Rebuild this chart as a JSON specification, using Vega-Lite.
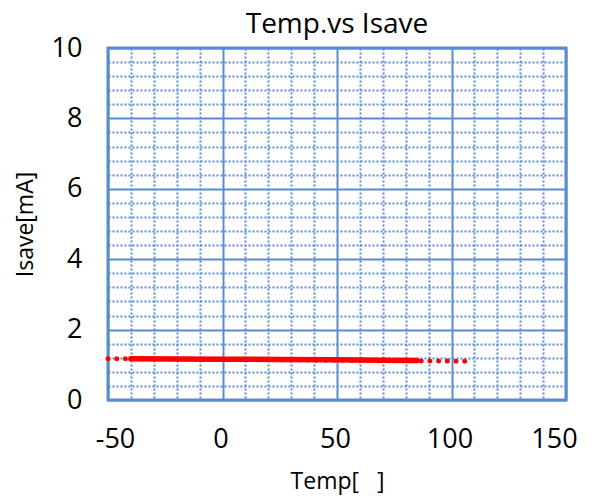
{
  "$schema": "https://vega.github.io/schema/vega-lite/v6.json",
  "width": 458,
  "height": 352,
  "autosize": "none",
  "padding": {"left": 108, "top": 48, "right": 34, "bottom": 103},
  "background": "white",
  "title": {"text": "Temp.vs Isave", "fontSize": 28, "font": "Open Sans", "fontWeight": "normal", "color": "#000000", "offset": -5},
  "config": {
    "view": {"stroke": "#5b8bd0", "strokeWidth": 3},
    "axis": {"labelFont": "Open Sans", "titleFont": "Open Sans", "labelColor": "#000", "titleColor": "#000", "titleFontWeight": "normal", "domain": false, "ticks": false, "labelOverlap": false}
  },
  "datasets": {
    "meas": [
      {"temp": -40, "isave": 1.17},
      {"temp": -20, "isave": 1.165},
      {"temp": 0, "isave": 1.16},
      {"temp": 25, "isave": 1.15},
      {"temp": 50, "isave": 1.14},
      {"temp": 70, "isave": 1.13},
      {"temp": 85, "isave": 1.12}
    ],
    "trend": [
      {"temp": -50, "isave": 1.175},
      {"temp": 108, "isave": 1.10}
    ]
  },
  "layer": [
    {
      "data": {"name": "trend"},
      "mark": {"type": "line", "color": "#ff0000", "strokeWidth": 5, "strokeDash": [0.1, 8.6], "strokeCap": "round"},
      "encoding": {
        "x": {"field": "temp", "type": "quantitative", "scale": {"domain": [-50, 150], "nice": false, "zero": false},
          "axis": {"title": "Temp[\u00a0\u00a0\u00a0]", "titleFontSize": 23, "labelFontSize": 27, "labelPadding": 26, "titlePadding": 18, "tickCount": 100,
            "labelFlush": false,
            "labelOffset": {"condition": [{"test": "datum.value === -50", "value": 7}, {"test": "datum.value === 150", "value": -12}], "value": -2},
            "values": [-50,-40,-30,-20,-10,0,10,20,30,40,50,60,70,80,90,100,110,120,130,140,150],
            "labelExpr": "datum.value % 50 === 0 ? '' + datum.value : ''",
            "grid": true, "gridColor": "#5b8bd0",
            "gridDash": {"condition": {"test": "datum.value % 50 === 0", "value": []}, "value": [2, 2]},
            "gridWidth": 2}},
        "y": {"field": "isave", "type": "quantitative", "scale": {"domain": [0, 10], "nice": false},
          "axis": {"title": "Isave[mA]", "titleFontSize": 23, "labelFontSize": 27, "labelPadding": 26, "titlePadding": 14, "tickCount": 100,
            "values": [0,0.4,0.8,1.2,1.6,2,2.4,2.8,3.2,3.6,4,4.4,4.8,5.2,5.6,6,6.4,6.8,7.2,7.6,8,8.4,8.8,9.2,9.6,10],
            "labelExpr": "abs(datum.value/2 - round(datum.value/2)) < 0.001 ? '' + round(datum.value) : ''",
            "grid": true, "gridColor": "#5b8bd0",
            "gridDash": {"condition": {"test": "abs(datum.value/2 - round(datum.value/2)) < 0.001", "value": []}, "value": [2, 2]},
            "gridWidth": 2}}
      }
    },
    {
      "data": {"name": "meas"},
      "mark": {"type": "line", "color": "#ff0000", "strokeWidth": 5.5, "strokeCap": "round"},
      "encoding": {
        "x": {"field": "temp", "type": "quantitative"},
        "y": {"field": "isave", "type": "quantitative"}
      }
    }
  ]
}
